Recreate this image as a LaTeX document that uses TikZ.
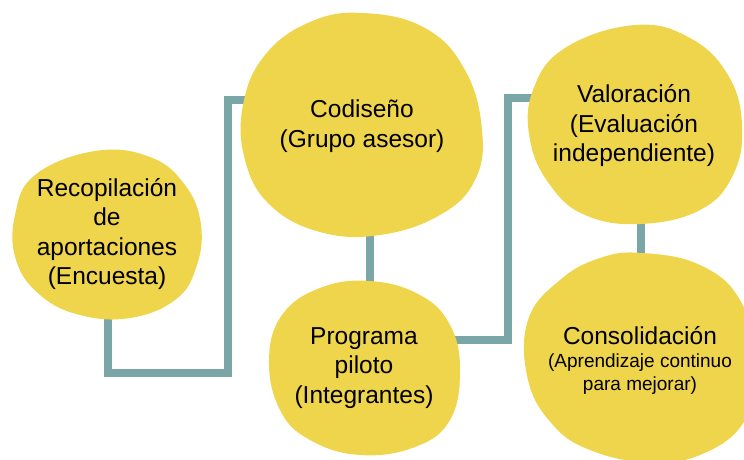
\documentclass[tikz,border=0pt]{standalone}
\usepackage{fontspec}
\setmainfont{Liberation Sans}
\definecolor{blobyellow}{RGB}{239,213,75}
\definecolor{linkteal}{RGB}{122,166,168}
\begin{document}
\begin{tikzpicture}[x=1pt,y=-1pt,
  blob/.style={fill=blobyellow,draw=none},
  link/.style={draw=linkteal,line width=7.5pt,line join=miter,line cap=butt},
  label/.style={align=center,text=black,inner sep=0pt,font=\fontsize{24.5}{29.5}\selectfont}]
\useasboundingbox (0,0) rectangle (744,460);
% anchor coordinates
\coordinate (b1s) at (108,312);
\coordinate (k1a) at (108,373);
\coordinate (k1b) at (228,373);
\coordinate (k1c) at (228,100);
\coordinate (b2w) at (252,100);
\coordinate (b2s) at (370,228);
\coordinate (b3n) at (370,288);
\coordinate (b3e) at (452,340);
\coordinate (k3a) at (508,340);
\coordinate (k3b) at (508,98);
\coordinate (b4w) at (538,98);
\coordinate (b4s) at (641,218);
\coordinate (b5n) at (641,260);
% connectors
\draw[link] (b1s) -- (k1a) -- (k1b) -- (k1c) -- (b2w);
\draw[link] (b2s) -- (b3n);
\draw[link] (b3e) -- (k3a) -- (k3b) -- (b4w);
\draw[link] (b4s) -- (b5n);
% blobs
\fill[blob] plot[smooth cycle,tension=0.7] coordinates {(95,151) (150,157) (185,185) (201,225) (196,268) (175,300) (130,318) (80,315) (40,295) (16,260) (15,215) (35,175)};
\fill[blob] plot[smooth cycle,tension=0.7] coordinates {(363,13) (425,28) (465,70) (482,130) (475,180) (440,215) (380,235) (320,232) (270,205) (245,160) (243,105) (265,55) (310,22)};
\fill[blob] plot[smooth cycle,tension=0.7] coordinates {(370,281) (420,295) (450,325) (460,370) (450,420) (415,447) (360,455) (310,440) (280,410) (269,360) (282,315) (320,288)};
\fill[blob] plot[smooth cycle,tension=0.7] coordinates {(635,25) (690,38) (728,75) (742,125) (733,175) (700,210) (640,224) (585,215) (550,185) (530,140) (533,90) (565,48)};
\fill[blob] plot[smooth cycle,tension=0.7] coordinates {(642,253) (700,265) (740,300) (755,360) (745,420) (700,455) (645,462) (590,450) (553,425) (528,380) (528,320) (560,280) (600,258)};
% labels
\node[label] (t1) at (107,234) {Recopilación\\de\\aportaciones\\(Encuesta)};
\node[label] (t2) at (362,126) {Codiseño\\(Grupo asesor)};
\node[label] (t3) at (364,368) {Programa\\piloto\\(Integrantes)};
\node[label] (t4) at (634,126) {Valoración\\(Evaluación\\independiente)};
\node[label] (t5) at (640,336) {Consolidación};
\node[label,font=\fontsize{19}{23}\selectfont,anchor=north] (t5b) at (640,354) {(Aprendizaje continuo\\para mejorar)};
\end{tikzpicture}
\end{document}
